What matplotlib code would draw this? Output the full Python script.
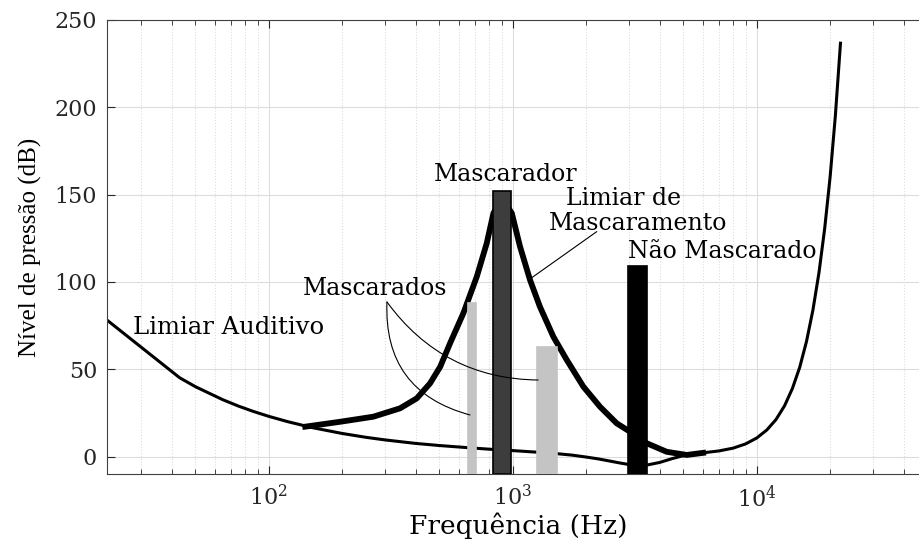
import matplotlib
matplotlib.use('Agg')
import matplotlib.pyplot as plt
from matplotlib.ticker import LogLocator, FixedLocator, NullFormatter

# limiar auditivo (limiar absoluto de audição)
freq_limiar = [21.5, 43.1, 50, 64.6, 75, 86.1, 100, 120, 150, 200, 250, 300,
               400, 500, 650, 800, 1000, 1250, 1500, 1750, 2000, 2250, 2500,
               2750, 3000, 3300, 3600, 4000, 4500, 5000, 5500, 6000, 7000,
               8000, 9000, 10000, 11000, 12000, 13000, 14000, 15000, 16000,
               17000, 18000, 19000, 20000, 21000, 22050]
nivel_limiar = [78.6, 45.1, 40.0, 32.6, 28.9, 25.9, 23.0, 19.9, 16.6, 13.2, 11.0, 9.5,
                7.5, 6.3, 5.1, 4.2, 3.4, 2.5, 1.7, 0.8, -0.3, -1.4, -2.6,
                -3.7, -4.6, -5.0, -4.7, -3.4, -1.2, 0.5, 1.5, 2.1, 3.2,
                4.8, 7.2, 10.6, 15.2, 21.2, 29.0, 38.9, 51.0, 65.9,
                83.9, 105.3, 130.7, 160.3, 194.8, 236.7]

# limiar de mascaramento em torno do mascarador
freq_masc = [141, 196, 268, 345, 404, 458, 504, 553, 627, 712, 782, 833, 904,
             991, 1071, 1177, 1292, 1467, 1665, 1947, 2279, 2668, 3025, 3541,
             4277, 5166, 6029]
nivel_masc = [17.1, 19.9, 22.8, 27.6, 33.3, 41.9, 51.4, 64.8, 82.0, 103.0, 122.1, 139.3, 148,
              139.3, 120.2, 101.1, 85.8, 68.6, 55.3, 40.0, 28.5, 19.0, 14.2, 7.6,
              2.7, 0.9, 2.1]

# componentes: mascarado, mascarador, mascarado, não mascarado
barras_freq = [681, 904, 1382, 3247]
barras_nivel = [88, 152, 62.5, 109]

barras_cor = ['#c4c4c4', '#3d3d3d', '#c4c4c4', 'black']
barras_borda = ['#c4c4c4', 'black', '#c4c4c4', 'black']
barras_larg = [0.033, 0.074, 0.082, 0.078]  # largura em décadas

YMIN, YMAX = -10, 250

plt.rcParams['font.family'] = 'DejaVu Serif'
plt.rcParams['mathtext.fontset'] = 'dejavuserif'

fig = plt.figure(figsize=(9.19, 5.44), dpi=100)
ax = fig.add_axes([0.1164, 0.1287, 0.8955, 0.8346])
ax.set_xscale('log')
ax.set_xlim(21.7, 51300)
ax.set_ylim(YMIN, YMAX)

# curvas
ax.plot(freq_limiar, nivel_limiar, color='black', lw=2.2, zorder=2)
ax.plot(freq_masc, nivel_masc, color='black', lw=4.2, zorder=2)

# barras (desenhadas por cima das curvas)
for f, n, c, ec, w in zip(barras_freq, barras_nivel, barras_cor, barras_borda, barras_larg):
    esq = f * 10 ** (-w / 2)
    dir_ = f * 10 ** (w / 2)
    ax.bar(esq, n - YMIN, width=dir_ - esq, bottom=YMIN, align='edge',
           color=c, edgecolor=ec, lw=1.2, zorder=3)

# grade e ticks
ax.yaxis.set_major_locator(FixedLocator([0, 50, 100, 150, 200, 250]))
ax.xaxis.set_major_locator(LogLocator(base=10))
ax.xaxis.set_minor_locator(LogLocator(base=10, subs=range(2, 10), numticks=20))
ax.xaxis.set_minor_formatter(NullFormatter())
ax.set_axisbelow(True)
ax.grid(True, which='major', color='#dcdcdc', lw=0.8)
ax.grid(True, which='minor', axis='x', color='#dcdcdc', ls=':', lw=0.8)
ax.tick_params(which='both', direction='in', top=True, right=False,
               colors='#262626', labelsize=16)
ax.tick_params(which='major', length=6)
ax.tick_params(which='minor', length=3.5)
ax.tick_params(axis='y', pad=7)
ax.tick_params(axis='x', pad=8)
for s in ['left', 'bottom', 'top']:
    ax.spines[s].set_color('#404040')
ax.spines['right'].set_visible(False)

ax.set_xlabel('Frequência (Hz)', fontsize=19, labelpad=0.5)
ax.set_ylabel('Nível de pressão (dB)', fontfamily='Liberation Serif',
              fontsize=18, labelpad=9)

# rótulos
ax.text(932, 158, 'Mascarador', fontsize=17, ha='center', va='baseline')
ax.text(2840, 144, 'Limiar de', fontsize=17, ha='center', va='baseline')
ax.text(3272, 130, 'Mascaramento', fontsize=17, ha='center', va='baseline')
ax.text(2968, 113.7, 'Não Mascarado', fontsize=17, ha='left', va='baseline')
ax.text(138, 92.5, 'Mascarados', fontsize=17, ha='left', va='baseline')
ax.text(27.8, 70.2, 'Limiar Auditivo', fontsize=17.5, ha='left', va='baseline')

# linhas de indicação
linha = dict(arrowstyle='-', color='black', lw=0.8, shrinkA=0, shrinkB=0)
ax.annotate('', xy=(1177, 101.7), xytext=(2210, 128.8),
            arrowprops=dict(linha, connectionstyle='arc3,rad=0'), zorder=4)
ax.annotate('', xy=(668, 23.8), xytext=(305, 88.5),
            arrowprops=dict(linha, connectionstyle='arc3,rad=0.4'), zorder=4)
ax.annotate('', xy=(1270, 43.8), xytext=(305, 88.5),
            arrowprops=dict(linha, connectionstyle='arc3,rad=0.25'), zorder=4)

fig.savefig('out.png', dpi=100)
